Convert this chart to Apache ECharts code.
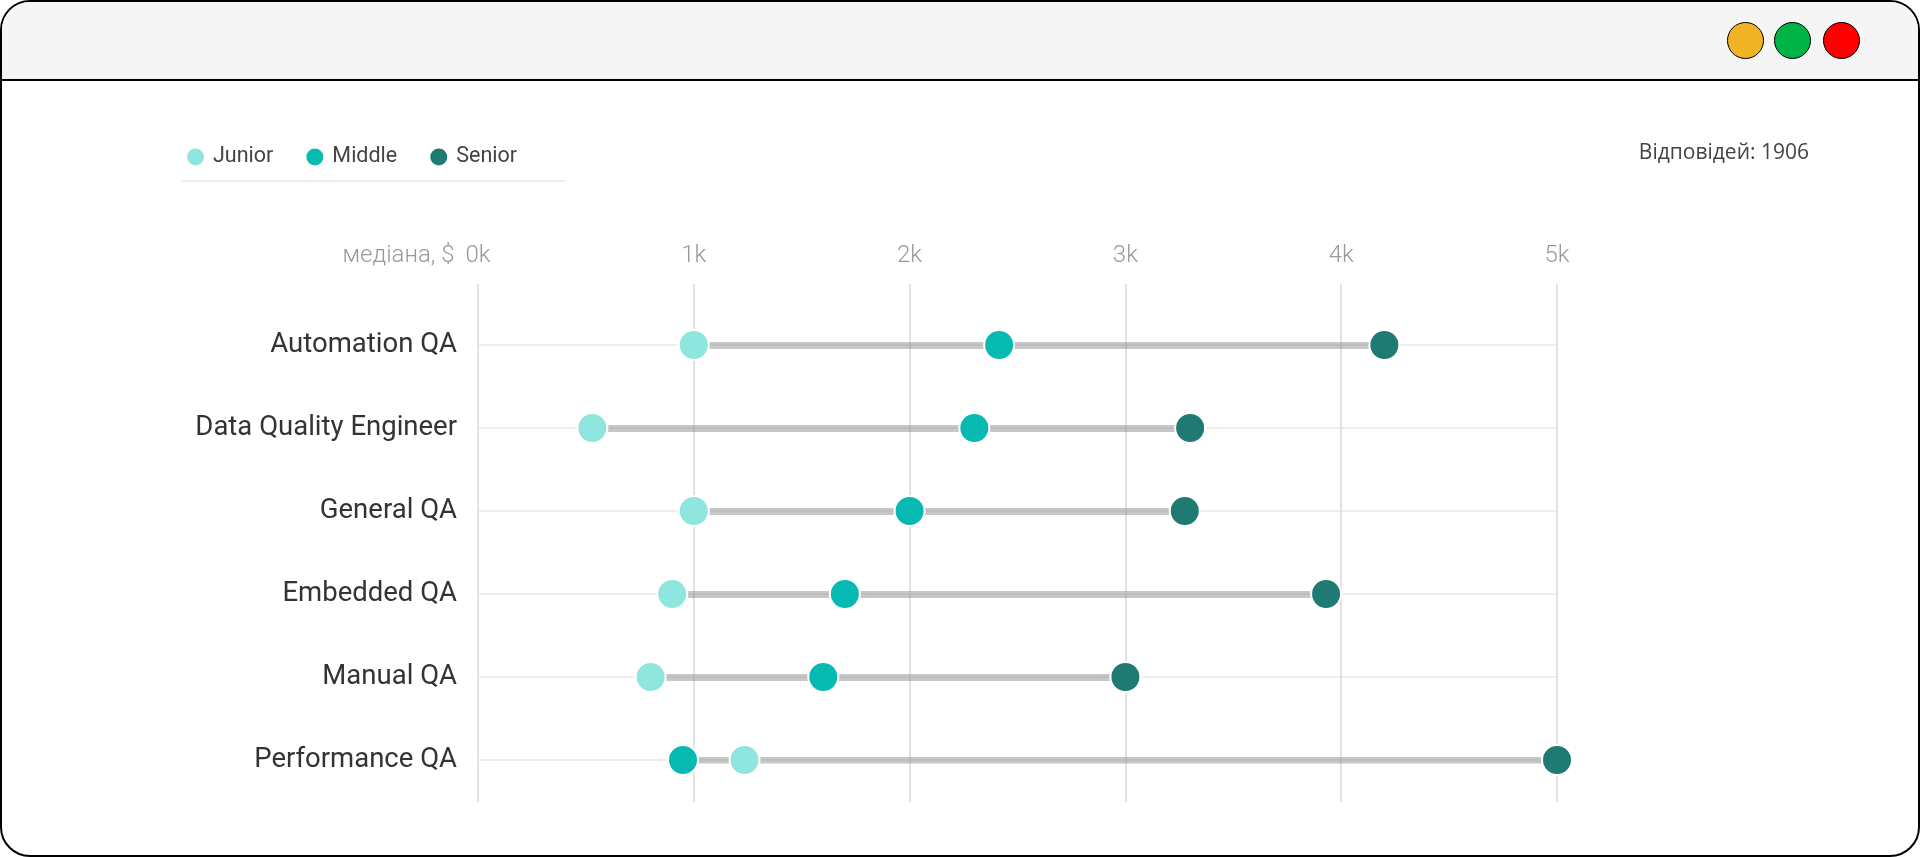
<!DOCTYPE html>
<html>
<head>
<meta charset="utf-8">
<script src="https://cdn.jsdelivr.net/npm/echarts@6/dist/echarts.min.js"></script>
<style>
  html, body { margin: 0; padding: 0; background: #fff; }
  #chart { position: absolute; left: 0; top: 0; width: 1920px; height: 857px; }
  #frame {
    position: absolute; left: 0; top: 0; width: 1916px; height: 853px;
    border: 2px solid #000; border-radius: 30px; overflow: hidden;
    pointer-events: none; z-index: 2;
  }
  #bar {
    position: absolute; left: 0; top: 0; width: 100%; height: 77px;
    background: #f5f5f5; border-bottom: 2px solid #000;
  }
  .dot {
    position: absolute; top: 20px; width: 37px; height: 37px; border-radius: 50%;
    border: 1.5px solid #000; box-sizing: border-box;
  }
</style>
</head>
<body>
<div id="chart"></div>
<div id="frame">
  <div id="bar">
    <div class="dot" style="left:1725px;background:#f0b323;"></div>
    <div class="dot" style="left:1772px;background:#00b347;"></div>
    <div class="dot" style="left:1821px;background:#ff0000;"></div>
  </div>
</div>
<script>
// медіана зарплат, $
const categories = ['Automation QA', 'Data Quality Engineer', 'General QA', 'Embedded QA', 'Manual QA', 'Performance QA'];
const junior = [1000, 530, 1000, 900, 800, 1235];
const middle = [2415, 2300, 2000, 1700, 1600, 950];
const senior = [4200, 3300, 3275, 3930, 3000, 5000];
const levels = ['Junior', 'Middle', 'Senior'];
const colors = ['#8ee6df', '#06b9b1', '#1e7a72'];
const answers = 1906;

const chart = echarts.init(document.getElementById('chart'));

const dumbbells = categories.map((c, i) => {
  const vals = [junior[i], middle[i], senior[i]];
  return {coords: [[Math.min(...vals), i], [Math.max(...vals), i]]};
});

const dots = (arr) => arr.map((v, i) => [v, i]);

const option = {
  animation: false,
  title: {
    text: `Відповідей: ${answers}`,
    right: 106,
    top: 138,
    textStyle: {fontSize: 21, fontWeight: 'normal', color: '#444', fontFamily: 'Open Sans'},
  },
  legend: {
    data: levels,
    left: 180,
    top: 141,
    icon: 'circle',
    itemWidth: 19,
    itemHeight: 19,
    itemGap: 31,
    textStyle: {fontSize: 21.5, color: '#444', fontFamily: 'Roboto', padding: [0, 0, 0, 3]},
  },
  graphic: [
    {type: 'line', shape: {x1: 181, y1: 181, x2: 566, y2: 181}, style: {stroke: '#e8e8e8', lineWidth: 1.5}},
  ],
  grid: [
    {left: 478, right: 363, top: 284, bottom: 55},
    {left: 478, right: 363, top: 345, bottom: 97},
  ],
  xAxis: [
    {
      gridIndex: 0,
      type: 'value',
      position: 'top',
      min: 0,
      max: 5000,
      interval: 1000,
      axisLine: {show: false},
      axisTick: {show: false},
      splitLine: {show: true, lineStyle: {color: '#e2e2e2', width: 2}},
      axisLabel: {
        margin: 16,
        fontSize: 24,
        fontWeight: 300,
        fontFamily: 'Roboto',
        color: '#999',
        formatter(v) {
          return v === 0 ? '{h|медіана, $ }0k{s| }' : v / 1000 + 'k';
        },
        rich: {
          h: {width: 128, align: 'right', fontSize: 24, fontWeight: 300, fontFamily: 'Roboto', color: '#999'},
          s: {width: 128, fontSize: 24},
        },
      },
    },
    {
      gridIndex: 1,
      type: 'value',
      min: 0,
      max: 5000,
      show: false,
    },
  ],
  yAxis: [
    {gridIndex: 0, type: 'value', show: false},
    {
      gridIndex: 1,
      type: 'category',
      data: categories,
      inverse: true,
      boundaryGap: false,
      axisLine: {show: false},
      axisTick: {show: false},
      splitLine: {show: true, lineStyle: {color: '#eeeeee', width: 2}},
      axisLabel: {margin: 21, fontSize: 27.5, color: '#333', fontFamily: 'Roboto', padding: [5, 0, 0, 0]},
    },
  ],
  series: [
    {
      type: 'lines',
      coordinateSystem: 'cartesian2d',
      xAxisIndex: 1,
      yAxisIndex: 1,
      z: 1,
      silent: true,
      lineStyle: {color: 'rgba(130,130,130,0.45)', width: 7, opacity: 1},
      data: dumbbells,
    },
    ...levels.map((name, k) => ({
      name,
      type: 'scatter',
      xAxisIndex: 1,
      yAxisIndex: 1,
      z: 3,
      symbolSize: 30,
      itemStyle: {color: colors[k], borderColor: '#fff', borderWidth: 2, opacity: 1},
      data: dots([junior, middle, senior][k]),
    })),
  ],
};

chart.setOption(option);
</script>
</body>
</html>
